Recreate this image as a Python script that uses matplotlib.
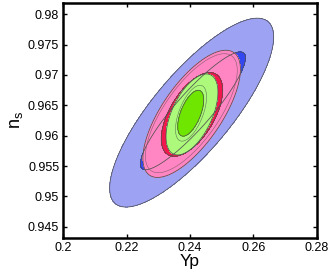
import numpy as np
import matplotlib
matplotlib.use("Agg")
import matplotlib.pyplot as plt

plt.rcParams['font.family'] = ['Liberation Sans', 'DejaVu Sans']

# Filled confidence regions, drawn back to front
region_names = ["outer light blue", "blue", "pink", "red", "light green", "green"]
center_yp = [0.2405, 0.2409, 0.2405, 0.2406, 0.2406, 0.2402]
center_ns = [0.9638, 0.9641, 0.9636, 0.9635, 0.9635, 0.9637]
half_width_yp = [0.0259, 0.0166, 0.0154, 0.0097, 0.0082, 0.0041]
half_height_ns = [0.01555, 0.0097, 0.01047, 0.0069, 0.00667, 0.00378]
correlation = [0.80, 0.90, 0.70, 0.58, 0.55, 0.58]
fill_colors = ["#9da2f2", "#3348f0", "#ff86c2", "#f2174c", "#adf97c", "#6ee600"]

# Unfilled contour lines lying inside the filled regions
line_center_yp = [0.2404, 0.2403]
line_center_ns = [0.9637, 0.9637]
line_half_width_yp = [0.0145, 0.0049]
line_half_height_ns = [0.0098, 0.0046]
line_correlation = [0.72, 0.58]

x_ticks = [0.2, 0.22, 0.24, 0.26, 0.28]
y_ticks = [0.945, 0.95, 0.955, 0.96, 0.965, 0.97, 0.975, 0.98]

fig = plt.figure(figsize=(3.32, 2.70), dpi=100)
ax = fig.add_axes([0.191, 0.1196, 0.763, 0.8704])

gx = np.linspace(0.195, 0.285, 700)
gy = np.linspace(0.940, 0.985, 700)
X, Y = np.meshgrid(gx, gy)


def form(cx, cy, a, b, r):
    u = (X - cx) / a
    v = (Y - cy) / b
    return (u * u - 2 * r * u * v + v * v) / (1 - r * r)


for i, (cx, cy, a, b, r, col) in enumerate(zip(center_yp, center_ns, half_width_yp,
                                               half_height_ns, correlation, fill_colors)):
    q = form(cx, cy, a, b, r)
    ax.contourf(X, Y, q, levels=[-1, 1], colors=[col])
    ax.contour(X, Y, q, levels=[1], colors=["#505050"], linewidths=0.55)
    if region_names[i] == "pink":
        ql = form(line_center_yp[0], line_center_ns[0], line_half_width_yp[0],
                  line_half_height_ns[0], line_correlation[0])
        ax.contour(X, Y, ql, levels=[1], colors=["#8a5a70"], linewidths=0.4)
    if region_names[i] == "light green":
        ql = form(line_center_yp[1], line_center_ns[1], line_half_width_yp[1],
                  line_half_height_ns[1], line_correlation[1])
        ax.contour(X, Y, ql, levels=[1], colors=["#5a7a50"], linewidths=0.4)

ax.set_xlim(0.2, 0.28)
ax.set_ylim(0.9432, 0.9819)
ax.set_xticks(x_ticks)
ax.set_xticklabels([f"{t:g}" for t in x_ticks])
ax.set_yticks(y_ticks)
ax.set_yticklabels([f"{t:g}" for t in y_ticks])
ax.tick_params(direction='in', length=3, width=1, labelsize=9,
               top=True, right=True, pad=3)
for s in ax.spines.values():
    s.set_linewidth(1.8)

ax.set_xlabel("Yp", fontsize=12.5, labelpad=0)
ax.set_ylabel(r"n$_\mathregular{s}$", fontsize=13, labelpad=2)

fig.savefig("out.png", dpi=100)
